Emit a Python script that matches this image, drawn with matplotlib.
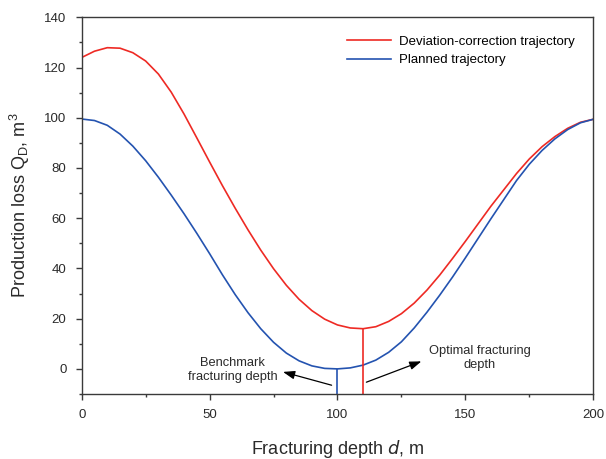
import numpy as np
import matplotlib
matplotlib.use("Agg")
import matplotlib.pyplot as plt
from matplotlib.ticker import MultipleLocator

plt.rcParams["font.family"] = ["Liberation Sans", "DejaVu Sans"]

# fracturing depth, m
depth = [0, 5, 10, 15, 20, 25, 30, 35, 40, 45, 50, 55, 60, 65, 70, 75, 80, 85, 90, 95,
         100, 105, 110, 115, 120, 125, 130, 135, 140, 145, 150, 155, 160, 165, 170, 175,
         180, 185, 190, 195, 200]

# production loss along the deviation-correction trajectory
q_corrected = [124.0, 126.5, 127.9, 127.7, 125.9, 122.6, 117.4, 110.2, 101.5, 92.0, 82.4,
               73.0, 64.0, 55.4, 47.3, 39.9, 33.3, 27.7, 23.2, 19.8, 17.5, 16.3, 16.0,
               16.8, 18.9, 22.0, 26.2, 31.4, 37.4, 44.0, 50.8, 57.8, 64.8, 71.3, 77.8,
               83.6, 88.5, 92.5, 95.8, 98.2, 99.4]

# production loss along the planned trajectory
q_planned = [99.5, 98.9, 97.0, 93.5, 88.7, 82.9, 76.3, 69.2, 61.8, 54.0, 45.9, 37.5, 29.6,
             22.4, 16.0, 10.6, 6.3, 3.2, 1.2, 0.2, 0.0, 0.4, 1.5, 3.5, 6.6, 10.8, 16.3,
             22.6, 29.4, 36.6, 44.2, 52.0, 59.8, 67.4, 75.0, 81.5, 87.0, 91.6, 95.3,
             98.0, 99.4]

benchmark_depth = 100
optimal_depth = 110
q_benchmark = 0.0
q_optimal = 16.0

red = "#ee2a24"
blue = "#2453b0"
spine_col = "#3a3a3a"
text_col = "#2a2a2a"

fig = plt.figure(figsize=(6.06, 4.59), dpi=100)
ax = fig.add_axes([0.1348, 0.1416, 0.8442, 0.8207])

ax.plot(depth, q_corrected, color=red, lw=1.2, label="Deviation-correction trajectory")
ax.plot(depth, q_planned, color=blue, lw=1.2, label="Planned trajectory")

# markers for the benchmark and optimal fracturing depths
ax.vlines(benchmark_depth, -10, q_benchmark, color=blue, lw=1.2)
ax.vlines(optimal_depth, -10, q_optimal, color=red, lw=1.2)

arrow = dict(arrowstyle="-|>,head_length=0.7,head_width=0.25", color="black", lw=0.9,
             shrinkA=0, shrinkB=0)
ax.annotate("", xy=(78.7, -1.2), xytext=(97.7, -6.5), arrowprops=arrow)
ax.annotate("", xy=(132.8, 3.0), xytext=(111.3, -5.3), arrowprops=arrow)
ax.text(58.9, -0.5, "Benchmark\nfracturing depth", ha="center", va="center",
        fontsize=9.3, color=text_col, linespacing=1.15)
ax.text(155.5, 4.4, "Optimal fracturing\ndepth", ha="center", va="center",
        fontsize=9.3, color=text_col, linespacing=1.15)

ax.set_xlim(0, 200)
ax.set_ylim(-10, 140)
ax.xaxis.set_major_locator(MultipleLocator(50))
ax.xaxis.set_minor_locator(MultipleLocator(25))
ax.yaxis.set_major_locator(MultipleLocator(20))
ax.yaxis.set_minor_locator(MultipleLocator(10))
ax.tick_params(which="both", direction="out", top=False, right=False,
               color=spine_col, labelsize=9.5, labelcolor=text_col)
ax.tick_params(which="major", length=4, width=1, pad=7)
ax.tick_params(which="minor", length=2.5, width=1)
for s in ax.spines.values():
    s.set_color(spine_col)
    s.set_linewidth(1.0)

ax.set_xlabel("Fracturing depth $\\mathit{d}$, m", fontsize=13, labelpad=12, color=text_col)
ax.set_ylabel("Production loss Q$_\\mathregular{D}$, m$^\\mathregular{3}$", fontsize=13,
              labelpad=9, color=text_col)

ax.legend(loc="upper right", frameon=False, fontsize=9.5, handlelength=3.4,
          handletextpad=0.58, labelspacing=0.45, borderaxespad=1.0)

fig.savefig("out.png", dpi=100)
